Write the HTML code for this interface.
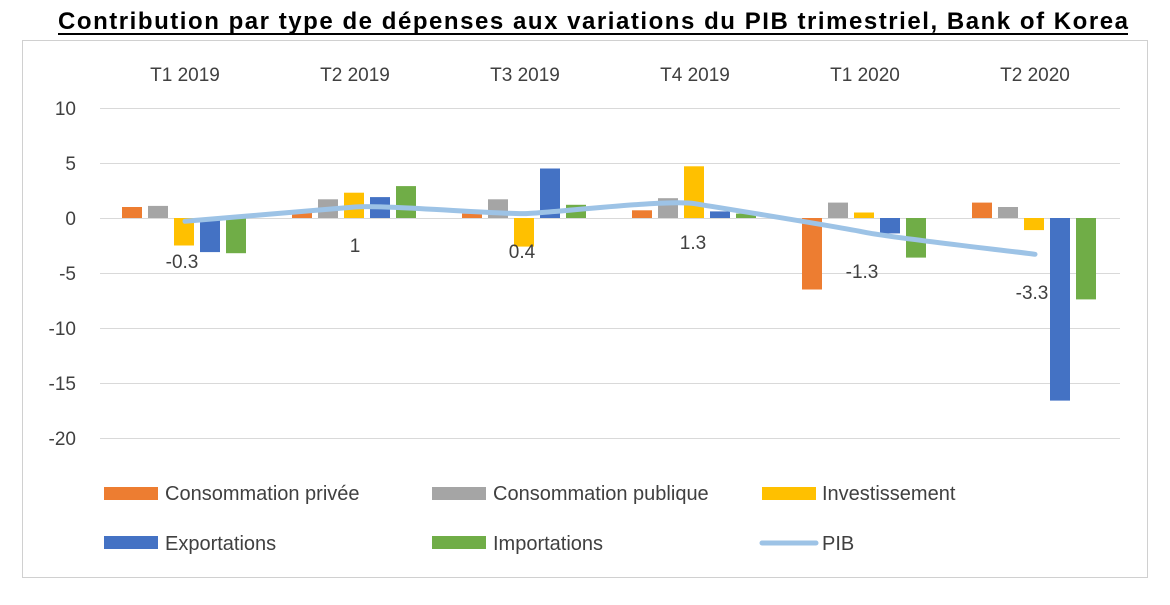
<!DOCTYPE html>
<html><head><meta charset="utf-8"><style>
body{margin:0;background:#fff;}
svg text{font-family:"Liberation Sans",sans-serif;}
</style></head><body>
<svg width="1170" height="600" viewBox="0 0 1170 600" xmlns="http://www.w3.org/2000/svg">
<rect x="0" y="0" width="1170" height="600" fill="#fff"/>
<text x="58" y="29" textLength="1070" lengthAdjust="spacing" font-size="24" font-weight="bold" fill="#000">Contribution par type de dépenses aux variations du PIB trimestriel, Bank of Korea</text>
<line x1="58" y1="34" x2="1128" y2="34" stroke="#000" stroke-width="2"/>
<rect x="22.5" y="40.5" width="1125" height="537" fill="none" stroke="#d0d0d0" stroke-width="1"/>
<g stroke="#d9d9d9" stroke-width="1">
<line x1="100" y1="108.5" x2="1120" y2="108.5"/>
<line x1="100" y1="163.5" x2="1120" y2="163.5"/>
<line x1="100" y1="218.5" x2="1120" y2="218.5"/>
<line x1="100" y1="273.5" x2="1120" y2="273.5"/>
<line x1="100" y1="328.5" x2="1120" y2="328.5"/>
<line x1="100" y1="383.5" x2="1120" y2="383.5"/>
<line x1="100" y1="438.5" x2="1120" y2="438.5"/>
</g>
<g font-size="19" fill="#404040" text-anchor="end">
<text x="76" y="115">10</text><text x="76" y="170">5</text><text x="76" y="225">0</text>
<text x="76" y="280">-5</text><text x="76" y="335">-10</text><text x="76" y="390">-15</text><text x="76" y="445">-20</text>
</g>
<g font-size="19" fill="#404040" text-anchor="middle">
<text x="185" y="81">T1 2019</text><text x="355" y="81">T2 2019</text><text x="525" y="81">T3 2019</text>
<text x="695" y="81">T4 2019</text><text x="865" y="81">T1 2020</text><text x="1035" y="81">T2 2020</text>
</g>
<g>
<rect x="122" y="207" width="20" height="11" fill="#ed7d31"/>
<rect x="148" y="205.9" width="20" height="12.1" fill="#a5a5a5"/>
<rect x="174" y="218" width="20" height="27.5" fill="#ffc000"/>
<rect x="200" y="218" width="20" height="34.1" fill="#4472c4"/>
<rect x="226" y="218" width="20" height="35.2" fill="#70ad47"/>

<rect x="292" y="210.3" width="20" height="7.7" fill="#ed7d31"/>
<rect x="318" y="199.3" width="20" height="18.7" fill="#a5a5a5"/>
<rect x="344" y="192.7" width="20" height="25.3" fill="#ffc000"/>
<rect x="370" y="197.1" width="20" height="20.9" fill="#4472c4"/>
<rect x="396" y="186.1" width="20" height="31.9" fill="#70ad47"/>

<rect x="462" y="213.6" width="20" height="4.4" fill="#ed7d31"/>
<rect x="488" y="199.3" width="20" height="18.7" fill="#a5a5a5"/>
<rect x="514" y="218" width="20" height="28.6" fill="#ffc000"/>
<rect x="540" y="168.5" width="20" height="49.5" fill="#4472c4"/>
<rect x="566" y="204.8" width="20" height="13.2" fill="#70ad47"/>

<rect x="632" y="210.3" width="20" height="7.7" fill="#ed7d31"/>
<rect x="658" y="198.2" width="20" height="19.8" fill="#a5a5a5"/>
<rect x="684" y="166.3" width="20" height="51.7" fill="#ffc000"/>
<rect x="710" y="211.4" width="20" height="6.6" fill="#4472c4"/>
<rect x="736" y="213.6" width="20" height="4.4" fill="#70ad47"/>

<rect x="802" y="218" width="20" height="71.5" fill="#ed7d31"/>
<rect x="828" y="202.6" width="20" height="15.4" fill="#a5a5a5"/>
<rect x="854" y="212.5" width="20" height="5.5" fill="#ffc000"/>
<rect x="880" y="218" width="20" height="15.4" fill="#4472c4"/>
<rect x="906" y="218" width="20" height="39.6" fill="#70ad47"/>

<rect x="972" y="202.6" width="20" height="15.4" fill="#ed7d31"/>
<rect x="998" y="207" width="20" height="11" fill="#a5a5a5"/>
<rect x="1024" y="218" width="20" height="12.1" fill="#ffc000"/>
<rect x="1050" y="218" width="20" height="182.6" fill="#4472c4"/>
<rect x="1076" y="218" width="20" height="81.4" fill="#70ad47"/>
</g>
<path d="M185,221.3 C213,218.9 327,209.4 355,207 C383,204.6 497,214.4 525,213.6 C553,212.8 667,199.1 695,203.7 C723,208.3 837,226.6 865,232.3 C893,238 1007,250.6 1035,254.3" fill="none" stroke="#9dc3e6" stroke-width="5" stroke-linecap="round"/>
<g font-size="19" fill="#404040" text-anchor="middle">
<text x="182" y="268">-0.3</text><text x="355" y="252">1</text><text x="522" y="258">0.4</text>
<text x="693" y="249">1.3</text><text x="862" y="278">-1.3</text><text x="1032" y="299">-3.3</text>
</g>
<g font-size="20" fill="#404040">
<rect x="104" y="487" width="54" height="13" fill="#ed7d31"/><text x="165" y="500">Consommation privée</text>
<rect x="432" y="487" width="54" height="13" fill="#a5a5a5"/><text x="493" y="500">Consommation publique</text>
<rect x="762" y="487" width="54" height="13" fill="#ffc000"/><text x="822" y="500">Investissement</text>
<rect x="104" y="536" width="54" height="13" fill="#4472c4"/><text x="165" y="550">Exportations</text>
<rect x="432" y="536" width="54" height="13" fill="#70ad47"/><text x="493" y="550">Importations</text>
<line x1="762" y1="543" x2="816" y2="543" stroke="#9dc3e6" stroke-width="5" stroke-linecap="round"/><text x="822" y="550">PIB</text>
</g>
</svg>
</body></html>
